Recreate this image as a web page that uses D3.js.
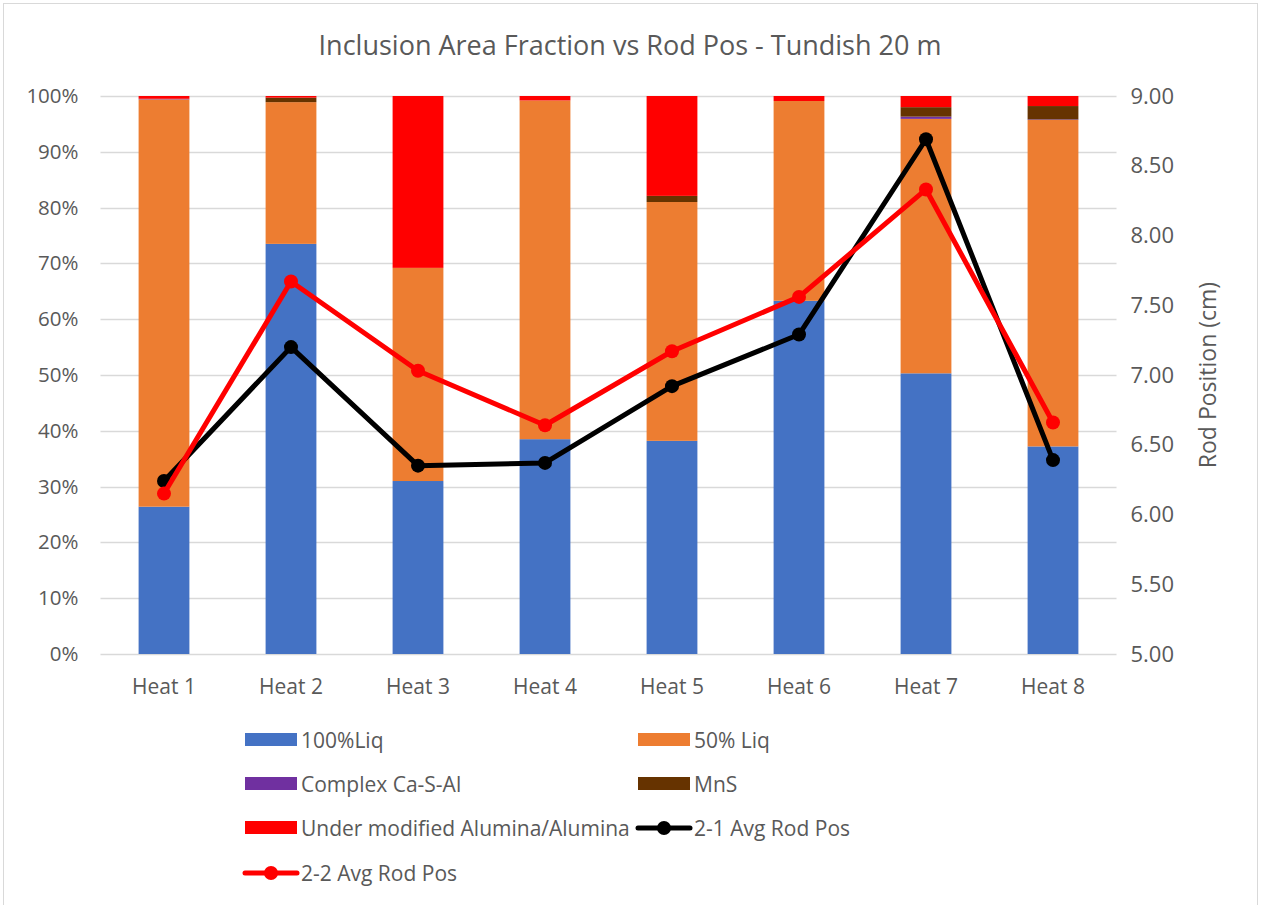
<!DOCTYPE html>
<html>
<head>
<meta charset="utf-8">
<script src="https://cdn.jsdelivr.net/npm/d3@7"></script>
<style>
  html, body { margin: 0; padding: 0; background: #fff; }
  svg { display: block; font-family: "Open Sans", "Noto Sans", sans-serif; }
</style>
</head>
<body>
<svg id="chart" width="1261" height="905"></svg>
<script>
// Heats along the x axis
const heats = ["Heat 1", "Heat 2", "Heat 3", "Heat 4", "Heat 5", "Heat 6", "Heat 7", "Heat 8"];

// Inclusion area fractions (%) per heat, stacked bottom to top
const liq100   = [26.4, 73.5, 31.0, 38.5, 38.2, 63.3, 50.3, 37.2];
const liq50    = [73.0, 25.4, 38.2, 60.7, 42.8, 35.8, 45.6, 58.5];
const complexCaSAl = [0.1, 0.0, 0.0, 0.0, 0.0, 0.0, 0.4, 0.1];
const mns      = [0.0, 0.8, 0.0, 0.0, 1.1, 0.0, 1.7, 2.4];
const alumina  = [0.5, 0.3, 30.8, 0.8, 17.9, 0.9, 2.0, 1.8];

// Average rod positions (cm), right axis
const rod21 = [6.24, 7.20, 6.35, 6.37, 6.92, 7.29, 8.69, 6.39];
const rod22 = [6.15, 7.67, 7.03, 6.64, 7.17, 7.56, 8.33, 6.66];

// Axis ticks
const pctTicks = [0, 10, 20, 30, 40, 50, 60, 70, 80, 90, 100];
const rodTicks = [5.0, 5.5, 6.0, 6.5, 7.0, 7.5, 8.0, 8.5, 9.0];

const seriesNames = ["100%Liq", "50% Liq", "Complex Ca-S-Al", "MnS", "Under modified Alumina/Alumina"];
const seriesColors = ["#4472c4", "#ed7d31", "#7030a0", "#663300", "#ff0000"];
const seriesArrays = [liq100, liq50, complexCaSAl, mns, alumina];

const svg = d3.select("#chart");
const textColor = "#595959";
const gridColor = "#d9d9d9";

// chart frame
svg.append("rect")
  .attr("x", 3.5).attr("y", 3.5)
  .attr("width", 1254).attr("height", 910)
  .attr("fill", "#fff").attr("stroke", gridColor).attr("stroke-width", 1);

const plot = { left: 100.5, right: 1116.5, top: 96, bottom: 654 };

const x = d3.scaleBand().domain(heats).range([plot.left, plot.right]).paddingInner(0.6).paddingOuter(0.3);
const yPct = d3.scaleLinear().domain([0, 100]).range([plot.bottom, plot.top]);
const yRod = d3.scaleLinear().domain([5, 9]).range([plot.bottom, plot.top]);

// title
svg.append("text")
  .attr("x", 630).attr("y", 55)
  .attr("text-anchor", "middle")
  .attr("fill", textColor)
  .attr("font-size", 27)
  .text("Inclusion Area Fraction vs Rod Pos - Tundish 20 m");

// gridlines
svg.append("g").selectAll("line").data(pctTicks).join("line")
  .attr("x1", plot.left).attr("x2", plot.right)
  .attr("y1", d => Math.round(yPct(d)) + 0.5).attr("y2", d => Math.round(yPct(d)) + 0.5)
  .attr("stroke", gridColor).attr("stroke-width", 1.3);

// left axis
const leftAxis = svg.append("g")
  .attr("transform", `translate(${plot.left},0)`)
  .call(d3.axisLeft(yPct).tickValues(pctTicks).tickFormat(d => d + "%").tickSize(0).tickPadding(22));
leftAxis.select(".domain").remove();
leftAxis.selectAll("text").attr("fill", textColor).attr("font-size", 20.5).attr("font-family", "Open Sans");

// right axis
const rightAxis = svg.append("g")
  .attr("transform", `translate(${plot.right},0)`)
  .call(d3.axisRight(yRod).tickValues(rodTicks).tickFormat(d3.format(".2f")).tickSize(0).tickPadding(14));
rightAxis.select(".domain").remove();
rightAxis.selectAll("text").attr("fill", textColor).attr("font-size", 22).attr("font-family", "Open Sans");

// right axis title
svg.append("text")
  .attr("transform", `translate(1216,${(plot.top + plot.bottom) / 2}) rotate(-90)`)
  .attr("text-anchor", "middle")
  .attr("fill", textColor)
  .attr("font-size", 23)
  .text("Rod Position (cm)");

// stacked bars
const rows = heats.map((h, i) => {
  const r = { heat: h };
  seriesNames.forEach((s, k) => r[s] = seriesArrays[k][i]);
  return r;
});
const stacked = d3.stack().keys(seriesNames)(rows);

svg.append("g").selectAll("g").data(stacked).join("g")
  .attr("fill", (d, k) => seriesColors[k])
  .selectAll("rect").data(d => d).join("rect")
  .attr("x", d => x(d.data.heat))
  .attr("width", x.bandwidth())
  .attr("y", d => yPct(d[1]))
  .attr("height", d => Math.max(0, yPct(d[0]) - yPct(d[1])));

// category labels
svg.append("g").selectAll("text").data(heats).join("text")
  .attr("x", d => x(d) + x.bandwidth() / 2)
  .attr("y", 694)
  .attr("text-anchor", "middle")
  .attr("fill", textColor)
  .attr("font-size", 21)
  .text(d => d);

// rod position lines
const line = d3.line()
  .x((d, i) => x(heats[i]) + x.bandwidth() / 2)
  .y(d => yRod(d));

[[rod21, "#000000"], [rod22, "#ff0000"]].forEach(([vals, col]) => {
  const g = svg.append("g");
  g.append("path").attr("d", line(vals))
    .attr("fill", "none").attr("stroke", col).attr("stroke-width", 5).attr("stroke-linejoin", "round");
  g.selectAll("circle").data(vals).join("circle")
    .attr("cx", (d, i) => x(heats[i]) + x.bandwidth() / 2)
    .attr("cy", d => yRod(d))
    .attr("r", 7).attr("fill", col);
});

// legend
const legendItems = [
  { name: "100%Liq", color: seriesColors[0], type: "bar", col: 0, row: 0 },
  { name: "50% Liq", color: seriesColors[1], type: "bar", col: 1, row: 0 },
  { name: "Complex Ca-S-Al", color: seriesColors[2], type: "bar", col: 0, row: 1 },
  { name: "MnS", color: seriesColors[3], type: "bar", col: 1, row: 1 },
  { name: "Under modified Alumina/Alumina", color: seriesColors[4], type: "bar", col: 0, row: 2 },
  { name: "2-1 Avg Rod Pos", color: "#000000", type: "line", col: 1, row: 2 },
  { name: "2-2 Avg Rod Pos", color: "#ff0000", type: "line", col: 0, row: 3 }
];
const colX = [245, 638];
const rowY = [740, 784, 828, 873];

const leg = svg.append("g").selectAll("g").data(legendItems).join("g")
  .attr("transform", d => `translate(${colX[d.col]},${rowY[d.row]})`);
leg.filter(d => d.type === "bar").append("rect")
  .attr("x", 0).attr("y", -7).attr("width", 52).attr("height", 13)
  .attr("fill", d => d.color);
leg.filter(d => d.type === "line").append("line")
  .attr("x1", 0).attr("x2", 52).attr("y1", 0).attr("y2", 0)
  .attr("stroke", d => d.color).attr("stroke-width", 5).attr("stroke-linecap", "round");
leg.filter(d => d.type === "line").append("circle")
  .attr("cx", 26).attr("cy", 0).attr("r", 7).attr("fill", d => d.color);
leg.append("text")
  .attr("x", 56).attr("y", 8)
  .attr("fill", textColor)
  .attr("font-size", 21)
  .text(d => d.name);
</script>
</body>
</html>
